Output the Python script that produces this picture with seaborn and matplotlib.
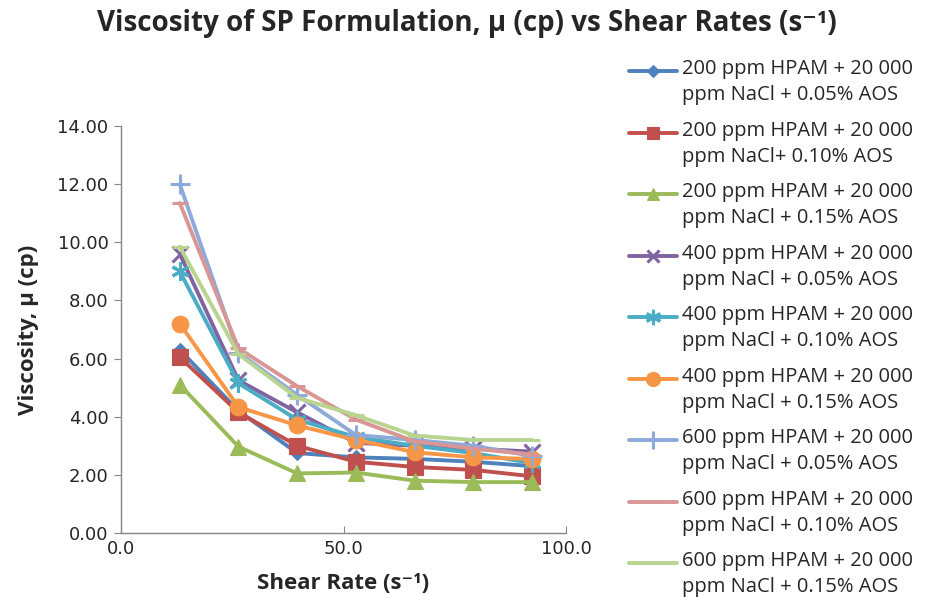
import matplotlib
matplotlib.use("Agg")
import matplotlib.pyplot as plt
from matplotlib.lines import Line2D
from matplotlib.legend_handler import HandlerLine2D
import seaborn as sns
import pandas as pd

shear_rate = [13.2, 26.4, 39.6, 52.8, 66.0, 79.2, 92.4]

labels = [
    "200 ppm HPAM + 20 000\nppm NaCl + 0.05% AOS",
    "200 ppm HPAM + 20 000\nppm NaCl+ 0.10% AOS",
    "200 ppm HPAM + 20 000\nppm NaCl + 0.15% AOS",
    "400 ppm HPAM + 20 000\nppm NaCl + 0.05% AOS",
    "400 ppm HPAM + 20 000\nppm NaCl + 0.10% AOS",
    "400 ppm HPAM + 20 000\nppm NaCl + 0.15% AOS",
    "600 ppm HPAM + 20 000\nppm NaCl + 0.05% AOS",
    "600 ppm HPAM + 20 000\nppm NaCl + 0.10% AOS",
    "600 ppm HPAM + 20 000\nppm NaCl + 0.15% AOS",
]

s200_005 = [6.30, 4.20, 2.75, 2.60, 2.55, 2.45, 2.30]
s200_010 = [6.05, 4.15, 3.00, 2.45, 2.27, 2.17, 1.95]
s200_015 = [5.10, 2.97, 2.05, 2.08, 1.80, 1.75, 1.75]
s400_005 = [9.60, 5.25, 4.15, 3.10, 3.00, 2.90, 2.80]
s400_010 = [9.00, 5.15, 3.90, 3.30, 3.00, 2.75, 2.40]
s400_015 = [7.20, 4.33, 3.70, 3.20, 2.78, 2.60, 2.55]
s600_005 = [12.00, 6.20, 4.75, 3.37, 3.20, 3.00, 2.65]
s600_010 = [11.35, 6.35, 5.05, 3.90, 3.15, 2.90, 2.70]
s600_015 = [9.85, 6.15, 4.65, 4.05, 3.35, 3.20, 3.20]

series = [s200_005, s200_010, s200_015, s400_005, s400_010,
          s400_015, s600_005, s600_010, s600_015]

colors = ["#4F81BD", "#C0504D", "#9BBB59", "#8064A2", "#4BACC6",
          "#F79646", "#8EAADB", "#D99694", "#B8D48F"]
markers = ["D", "s", "^", "x", (6, 2, 0), "o", "+", "_", "_"]
msizes = [7, 11, 11, 11, 13, 12, 15, 12, 12]
line_art = ("x", "+", "_", (6, 2, 0))

sns.set_style("white")
plt.rcParams['font.family'] = ['DejaVu Sans']
TXT = ["Open Sans", "DejaVu Sans"]

fig = plt.figure(figsize=(9.33, 5.97), dpi=100)
ax = fig.add_axes([121/933, 1-533/597, (566-121)/933, (533-126)/597])

for lab, vals, c, m, ms in zip(labels, series, colors, markers, msizes):
    df = pd.DataFrame({"x": shear_rate, "y": vals})
    sns.lineplot(data=df, x="x", y="y", ax=ax, color=c, marker=m,
                 markersize=ms, linewidth=2.8,
                 markeredgewidth=2.2 if m in line_art else 0.8,
                 markeredgecolor=c, label=lab, legend=False)

ax.set_xlim(0, 100)
ax.set_ylim(0, 14)
ax.set_xticks([0, 50, 100])
ax.set_xticklabels(["0.0", "50.0", "100.0"])
ax.set_yticks(range(0, 15, 2))
ax.set_yticklabels([f"{v:.2f}" for v in range(0, 15, 2)])
ax.tick_params(axis="x", direction="in", length=5, color="#868686", labelsize=13, pad=5, bottom=True)
ax.tick_params(axis="y", direction="out", length=5, color="#868686", labelsize=13, pad=4, left=True)
for sp in ["top", "right"]:
    ax.spines[sp].set_visible(False)
for sp in ["left", "bottom"]:
    ax.spines[sp].set_color("#868686")
    ax.spines[sp].set_linewidth(1.0)

ax.set_xlabel("Shear Rate (s⁻¹)", fontsize=16, fontweight="bold", family=TXT, labelpad=11)
ax.set_ylabel("Viscosity, μ (cp)", fontsize=16, fontweight="bold", family=TXT, labelpad=13)

fig.text(0.5, 1-24/597, "Viscosity of SP Formulation, μ (cp) vs Shear Rates (s⁻¹)",
         ha="center", va="center", fontsize=20, fontweight="bold", family=TXT)


class FirstLineHandler(HandlerLine2D):
    def create_artists(self, legend, orig_handle, xdescent, ydescent,
                       width, height, fontsize, trans):
        return super().create_artists(legend, orig_handle, xdescent,
                                      ydescent - 1.1 * fontsize, width, height,
                                      fontsize, trans)


handles, labs = ax.get_legend_handles_labels()
leg = fig.legend(handles, labs, loc="upper left", bbox_to_anchor=(621/933, 1-51/597),
                 frameon=False, prop={"family": "Open Sans", "size": 14.5},
                 handlelength=2.4, handletextpad=0.25, labelspacing=0.77,
                 markerscale=0.85,
                 borderaxespad=0, handler_map={Line2D: FirstLineHandler()})
for t in leg.get_texts():
    t.set_linespacing(1.4)

fig.savefig("out.png", dpi=100)
